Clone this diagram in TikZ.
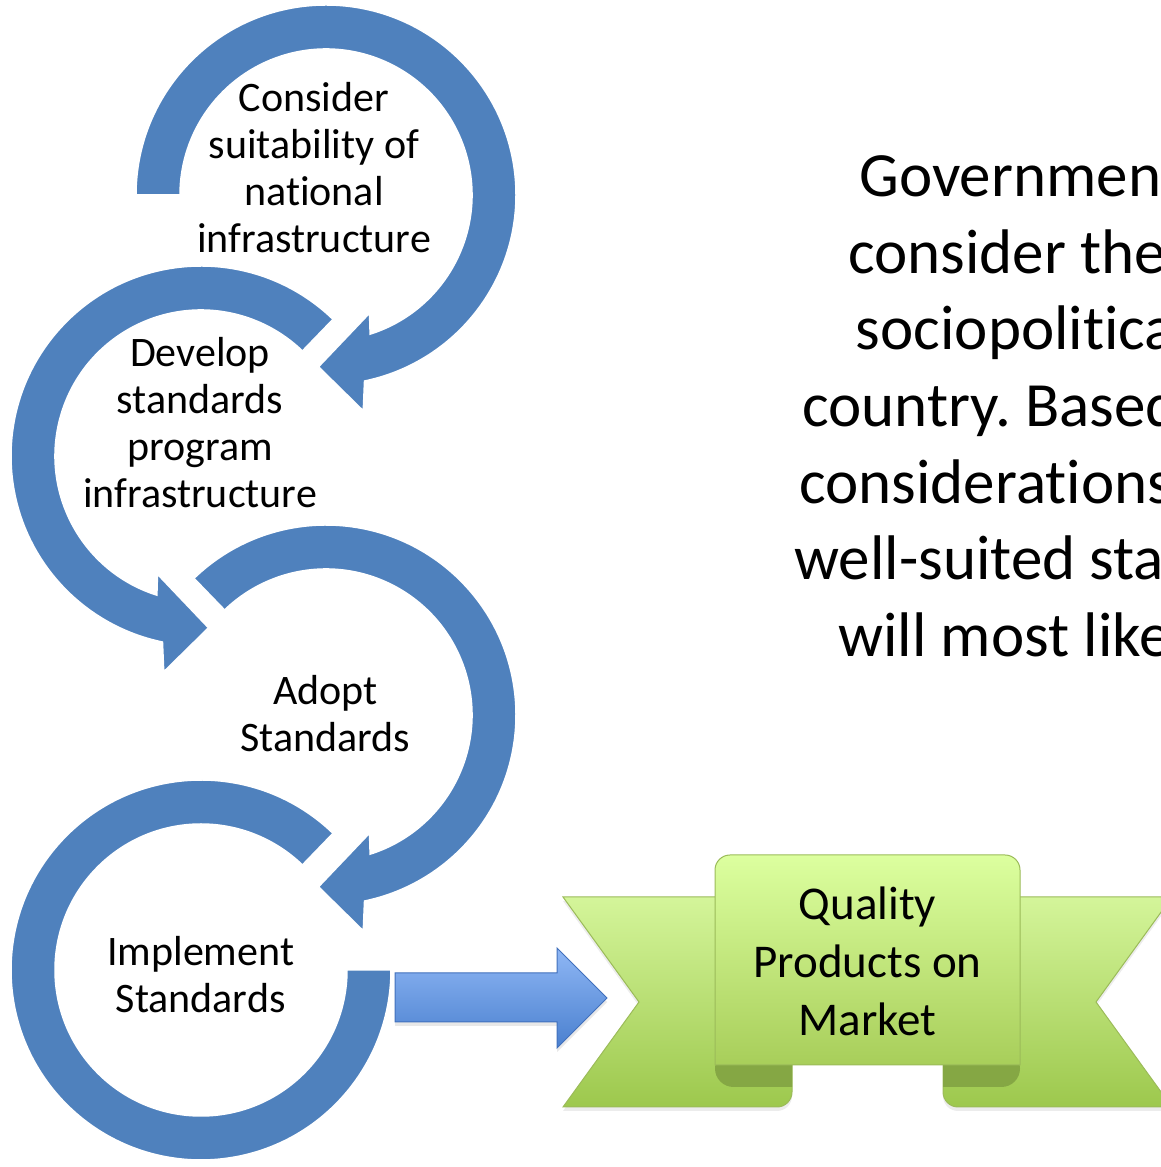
\documentclass[tikz,border=0pt]{standalone}
\usepackage{fontspec}
\setmainfont{Carlito}[Ligatures=NoCommon]
\usetikzlibrary{shadows}
\frenchspacing

\definecolor{ringblue}{HTML}{4F81BD}
\definecolor{arrowtop}{HTML}{8FB7F5}
\definecolor{arrowbot}{HTML}{4A80CF}
\definecolor{arrowline}{HTML}{4170BC}
\definecolor{wingtop}{HTML}{D4F59A}
\definecolor{wingbot}{HTML}{9DC84D}
\definecolor{paneltop}{HTML}{DCFF9F}
\definecolor{panelbot}{HTML}{A8CE5A}
\definecolor{foldgreen}{HTML}{85A744}
\definecolor{ribbonline}{HTML}{9BBB59}

\tikzset{
  ring/.style={fill=ringblue, draw=white, line width=0.75pt},
  steptext/.style={align=center, inner sep=0pt, font=\fontsize{21}{23.5}\selectfont},
  markettext/.style={align=center, inner sep=0pt, font=\fontsize{23.5}{29}\selectfont},
  notetext/.style={inner sep=0pt, anchor=base west, font=\fontsize{31.5}{38.4}\selectfont},
  blockarrow/.style={top color=arrowtop, bottom color=arrowbot, draw=arrowline, line width=0.5pt,
    drop shadow={opacity=0.18, shadow xshift=0pt, shadow yshift=-2pt}},
  wing/.style={top color=wingtop, bottom color=wingbot, draw=ribbonline, line width=0.5pt,
    drop shadow={opacity=0.15, shadow xshift=0pt, shadow yshift=-2pt}},
  panel/.style={top color=paneltop, bottom color=panelbot, draw=ribbonline, line width=0.5pt},
  fold/.style={fill=foldgreen}
}

\begin{document}
\begin{tikzpicture}[x=0.5pt, y=0.5pt]
  \useasboundingbox (0,0) rectangle (1161,1167);
  \clip (0,0) rectangle (1161,1167);

  % circular arrows, clockwise ones first
  \foreach \cx/\cy/\a in {326/972/180, 326/452/134} {
    \begin{scope}[shift={(\cx,\cy)}]
      \draw[ring] (\a:190) arc[start angle=\a, end angle=-78.3, radius=190]
        -- (-80.2:219) -- (-92.5:172) -- (-69.8:126) -- (-72.4:146)
        arc[start angle=-72.4, end angle=\a, radius=146] -- cycle;
    \end{scope}
  }
  \begin{scope}[shift={(201,711)}]
    \draw[ring] (46:190) arc[start angle=46, end angle=258.3, radius=190]
      -- (260.2:219) -- (272.5:172) -- (249.8:126) -- (252.4:146)
      arc[start angle=252.4, end angle=46, radius=146] -- cycle;
  \end{scope}
  \begin{scope}[shift={(201,197)}]
    \draw[ring] (46:190) arc[start angle=46, end angle=360, radius=190]
      -- (0:146) arc[start angle=360, end angle=46, radius=146] -- cycle;
  \end{scope}

  \node[steptext] (consider) at (314,999.5) {Consider\\suitability of\\national\\infrastructure};
  \node[steptext] (develop) at (200,744) {Develop\\standards\\program\\infrastructure};
  \node[steptext] (adopt) at (325.5,453.5) {Adopt\\Standards};
  \node[steptext] (implement) at (200.7,192.5) {Implement\\Standards};

  % block arrow
  \draw[blockarrow] (395,194) -- (557,194) -- (557,219) -- (607,169) -- (557,119)
    -- (557,145) -- (395,145) -- cycle;

  % ribbon
  \draw[wing] (563,270) -- (792,270) -- (792,75) arc[start angle=0, end angle=-90, radius=15]
    -- (563,60) -- (639,165) -- cycle;
  \draw[wing] (1172,270) -- (943,270) -- (943,75) arc[start angle=180, end angle=270, radius=15]
    -- (1172,60) -- (1096,165) -- cycle;
  \fill[fold] (792,117) -- (733.5,117) arc[start angle=90, end angle=270, radius=18.5]
    -- (792,80) -- cycle;
  \fill[fold] (943,117) -- (1001.5,117) arc[start angle=90, end angle=-90, radius=18.5]
    -- (943,80) -- cycle;
  \draw[panel] (715,102) -- (715,297) arc[start angle=180, end angle=90, radius=15]
    -- (1005,312) arc[start angle=90, end angle=0, radius=15] -- (1020,102) -- cycle;
  \node[markettext] (market) at (867.5,205.5) {Quality\\Products on\\Market};

  % text on the right
  \foreach \i/\x/\y/\t in {1/859/970/Governmen, 2/848/893/consider the, 3/855.5/817/sociopolitica,
      4/802/740/country. Based, 5/799/663/considerations, 6/794/587/well-suited sta,
      7/838/510/will most like}
    \node[notetext] (note\i) at (\x,\y) {\t};
\end{tikzpicture}
\end{document}
